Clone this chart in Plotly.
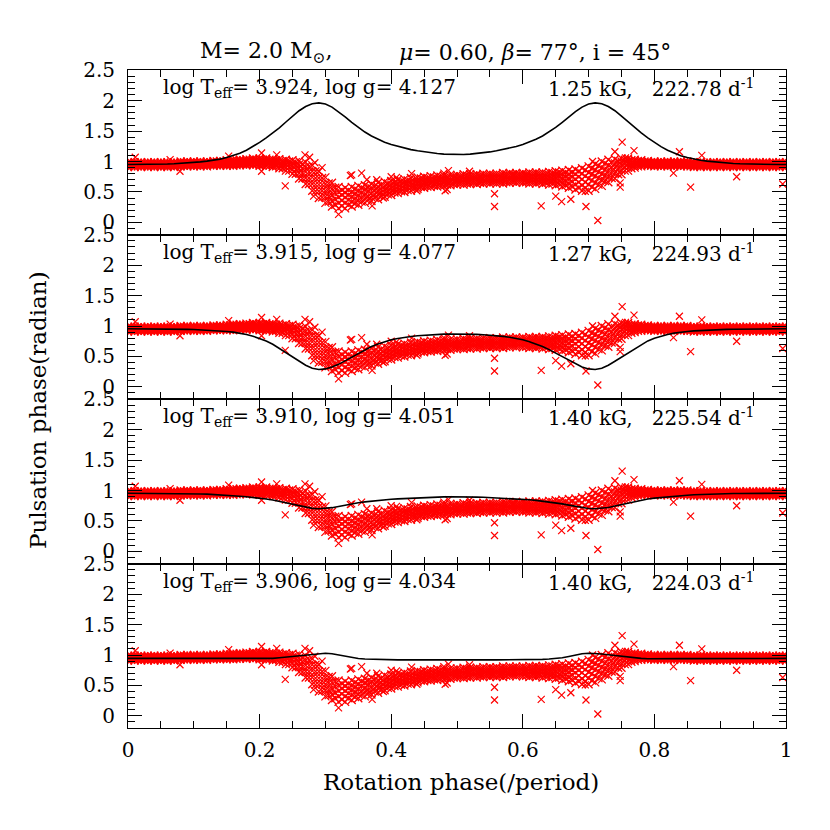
import plotly.graph_objects as go
from plotly.subplots import make_subplots

# rotation phase grid (model curves and data band)
phase = [0.00, 0.01, 0.02, 0.03, 0.04, 0.05, 0.06, 0.07, 0.08, 0.09,
         0.10, 0.11, 0.12, 0.13, 0.14, 0.15, 0.16, 0.17, 0.18, 0.19,
         0.20, 0.21, 0.22, 0.23, 0.24, 0.25, 0.26, 0.27, 0.28, 0.29,
         0.30, 0.31, 0.32, 0.33, 0.34, 0.35, 0.36, 0.37, 0.38, 0.39,
         0.40, 0.41, 0.42, 0.43, 0.44, 0.45, 0.46, 0.47, 0.48, 0.49,
         0.50, 0.51, 0.52, 0.53, 0.54, 0.55, 0.56, 0.57, 0.58, 0.59,
         0.60, 0.61, 0.62, 0.63, 0.64, 0.65, 0.66, 0.67, 0.68, 0.69,
         0.70, 0.71, 0.72, 0.73, 0.74, 0.75, 0.76, 0.77, 0.78, 0.79,
         0.80, 0.81, 0.82, 0.83, 0.84, 0.85, 0.86, 0.87, 0.88, 0.89,
         0.90, 0.91, 0.92, 0.93, 0.94, 0.95, 0.96, 0.97, 0.98, 0.99, 1.00]

# observed pulsation phase, read as strands across the dense band
band_hi = [0.99, 0.99, 0.99, 0.99, 0.99, 0.99, 0.99, 0.99, 1.00, 1.00,
           1.00, 1.00, 1.00, 1.01, 1.01, 1.02, 1.03, 1.03, 1.04, 1.05,
           1.05, 1.05, 1.04, 1.04, 1.03, 1.02, 1.01, 0.99, 0.94, 0.84,
           0.74, 0.65, 0.58, 0.57, 0.58, 0.60, 0.61, 0.63, 0.65, 0.67,
           0.68, 0.70, 0.71, 0.73, 0.74, 0.75, 0.76, 0.77, 0.77, 0.78,
           0.78, 0.79, 0.79, 0.79, 0.80, 0.80, 0.80, 0.81, 0.81, 0.81,
           0.81, 0.82, 0.82, 0.82, 0.83, 0.84, 0.85, 0.86, 0.87, 0.89,
           0.92, 0.96, 1.00, 1.03, 1.04, 1.05, 1.05, 1.03, 1.02, 1.01,
           1.00, 1.00, 1.00, 1.00, 1.00, 1.00, 0.99, 0.99, 0.99, 0.99,
           0.99, 0.99, 0.99, 0.99, 0.99, 0.99, 0.99, 0.99, 0.99, 0.99, 0.99]
band_mh = [0.97, 0.97, 0.97, 0.97, 0.97, 0.97, 0.97, 0.97, 0.98, 0.98,
           0.98, 0.98, 0.98, 0.99, 0.99, 0.99, 1.00, 1.01, 1.01, 1.02,
           1.02, 1.02, 1.01, 1.00, 0.99, 0.97, 0.95, 0.91, 0.84, 0.73,
           0.63, 0.55, 0.50, 0.49, 0.50, 0.52, 0.54, 0.56, 0.58, 0.60,
           0.62, 0.64, 0.66, 0.67, 0.69, 0.70, 0.71, 0.72, 0.73, 0.74,
           0.74, 0.75, 0.75, 0.75, 0.76, 0.76, 0.76, 0.77, 0.77, 0.77,
           0.77, 0.78, 0.78, 0.78, 0.78, 0.79, 0.79, 0.79, 0.79, 0.80,
           0.82, 0.86, 0.90, 0.94, 0.97, 1.00, 1.01, 1.00, 0.99, 0.99,
           0.98, 0.98, 0.98, 0.98, 0.98, 0.98, 0.97, 0.97, 0.97, 0.97,
           0.97, 0.97, 0.97, 0.97, 0.97, 0.97, 0.97, 0.97, 0.97, 0.97, 0.97]
band_mid = [0.95, 0.95, 0.95, 0.95, 0.95, 0.95, 0.95, 0.95, 0.96, 0.96,
            0.96, 0.96, 0.96, 0.97, 0.97, 0.97, 0.98, 0.98, 0.99, 0.99,
            0.99, 0.99, 0.98, 0.97, 0.95, 0.93, 0.89, 0.83, 0.74, 0.62,
            0.52, 0.45, 0.41, 0.41, 0.42, 0.44, 0.46, 0.48, 0.51, 0.54,
            0.56, 0.58, 0.60, 0.62, 0.64, 0.65, 0.66, 0.67, 0.68, 0.69,
            0.70, 0.70, 0.71, 0.71, 0.72, 0.72, 0.72, 0.72, 0.73, 0.73,
            0.73, 0.73, 0.73, 0.73, 0.73, 0.73, 0.72, 0.72, 0.71, 0.71,
            0.72, 0.76, 0.80, 0.85, 0.90, 0.94, 0.96, 0.97, 0.97, 0.97,
            0.96, 0.96, 0.96, 0.96, 0.96, 0.96, 0.95, 0.95, 0.95, 0.95,
            0.95, 0.95, 0.95, 0.95, 0.95, 0.95, 0.95, 0.95, 0.95, 0.95, 0.95]
band_ml = [0.93, 0.93, 0.93, 0.93, 0.93, 0.93, 0.93, 0.93, 0.94, 0.94,
           0.94, 0.94, 0.94, 0.95, 0.95, 0.95, 0.95, 0.96, 0.96, 0.96,
           0.96, 0.96, 0.94, 0.93, 0.90, 0.87, 0.81, 0.73, 0.63, 0.51,
           0.42, 0.35, 0.32, 0.32, 0.34, 0.36, 0.39, 0.41, 0.45, 0.48,
           0.50, 0.53, 0.55, 0.57, 0.59, 0.61, 0.62, 0.63, 0.64, 0.65,
           0.66, 0.66, 0.67, 0.67, 0.68, 0.68, 0.68, 0.68, 0.69, 0.69,
           0.69, 0.68, 0.68, 0.68, 0.67, 0.67, 0.65, 0.64, 0.62, 0.61,
           0.62, 0.65, 0.70, 0.75, 0.81, 0.86, 0.90, 0.93, 0.95, 0.95,
           0.94, 0.94, 0.94, 0.94, 0.94, 0.94, 0.93, 0.93, 0.93, 0.93,
           0.93, 0.93, 0.93, 0.93, 0.93, 0.93, 0.93, 0.93, 0.93, 0.93, 0.93]
band_lo = [0.91, 0.91, 0.91, 0.91, 0.91, 0.91, 0.91, 0.91, 0.92, 0.92,
           0.92, 0.92, 0.92, 0.93, 0.93, 0.93, 0.93, 0.94, 0.94, 0.94,
           0.93, 0.93, 0.91, 0.89, 0.85, 0.80, 0.72, 0.63, 0.52, 0.40,
           0.32, 0.26, 0.23, 0.23, 0.26, 0.29, 0.32, 0.35, 0.38, 0.42,
           0.45, 0.48, 0.50, 0.52, 0.55, 0.57, 0.58, 0.59, 0.60, 0.61,
           0.62, 0.62, 0.63, 0.63, 0.64, 0.64, 0.64, 0.64, 0.65, 0.65,
           0.65, 0.64, 0.64, 0.63, 0.62, 0.61, 0.59, 0.57, 0.54, 0.52,
           0.52, 0.55, 0.60, 0.66, 0.72, 0.79, 0.85, 0.90, 0.92, 0.93,
           0.92, 0.92, 0.92, 0.92, 0.92, 0.92, 0.91, 0.91, 0.91, 0.91,
           0.91, 0.91, 0.91, 0.91, 0.91, 0.91, 0.91, 0.91, 0.91, 0.91, 0.91]

# second set of band points, read at the half-step phases
phase_off = [0.005, 0.015, 0.025, 0.035, 0.045, 0.055, 0.065, 0.075, 0.085, 0.095,
             0.105, 0.115, 0.125, 0.135, 0.145, 0.155, 0.165, 0.175, 0.185, 0.195,
             0.205, 0.215, 0.225, 0.235, 0.245, 0.255, 0.265, 0.275, 0.285, 0.295,
             0.305, 0.315, 0.325, 0.335, 0.345, 0.355, 0.365, 0.375, 0.385, 0.395,
             0.405, 0.415, 0.425, 0.435, 0.445, 0.455, 0.465, 0.475, 0.485, 0.495,
             0.505, 0.515, 0.525, 0.535, 0.545, 0.555, 0.565, 0.575, 0.585, 0.595,
             0.605, 0.615, 0.625, 0.635, 0.645, 0.655, 0.665, 0.675, 0.685, 0.695,
             0.705, 0.715, 0.725, 0.735, 0.745, 0.755, 0.765, 0.775, 0.785, 0.795,
             0.805, 0.815, 0.825, 0.835, 0.845, 0.855, 0.865, 0.875, 0.885, 0.895,
             0.905, 0.915, 0.925, 0.935, 0.945, 0.955, 0.965, 0.975, 0.985, 0.995]
off_a = [0.98, 0.98, 0.98, 0.98, 0.98, 0.98, 0.98, 0.98, 0.99, 0.99,
         0.99, 0.99, 0.99, 1.00, 1.00, 1.01, 1.02, 1.02, 1.03, 1.03,
         1.03, 1.03, 1.02, 1.01, 1.00, 0.99, 0.96, 0.92, 0.84, 0.73,
         0.64, 0.57, 0.53, 0.53, 0.55, 0.57, 0.58, 0.60, 0.62, 0.64,
         0.66, 0.68, 0.69, 0.71, 0.72, 0.73, 0.74, 0.75, 0.75, 0.76,
         0.76, 0.77, 0.77, 0.77, 0.78, 0.78, 0.78, 0.79, 0.79, 0.79,
         0.79, 0.80, 0.80, 0.80, 0.81, 0.82, 0.82, 0.83, 0.84, 0.86,
         0.89, 0.93, 0.97, 0.99, 1.01, 1.03, 1.02, 1.01, 1.00, 0.99,
         0.99, 0.99, 0.99, 0.99, 0.99, 0.98, 0.98, 0.98, 0.98, 0.98,
         0.98, 0.98, 0.98, 0.98, 0.98, 0.98, 0.98, 0.98, 0.98, 0.98]
off_b = [0.96, 0.96, 0.96, 0.96, 0.96, 0.96, 0.96, 0.97, 0.97, 0.97,
         0.97, 0.97, 0.98, 0.98, 0.98, 0.98, 0.99, 1.00, 1.00, 1.00,
         1.00, 1.00, 0.99, 0.98, 0.96, 0.93, 0.89, 0.83, 0.73, 0.62,
         0.54, 0.48, 0.45, 0.45, 0.47, 0.49, 0.51, 0.53, 0.55, 0.58,
         0.60, 0.62, 0.64, 0.65, 0.67, 0.68, 0.69, 0.70, 0.71, 0.72,
         0.72, 0.73, 0.73, 0.73, 0.74, 0.74, 0.74, 0.75, 0.75, 0.75,
         0.75, 0.75, 0.75, 0.75, 0.76, 0.76, 0.75, 0.75, 0.75, 0.76,
         0.79, 0.83, 0.87, 0.91, 0.95, 0.98, 0.98, 0.98, 0.98, 0.97,
         0.97, 0.97, 0.97, 0.97, 0.97, 0.96, 0.96, 0.96, 0.96, 0.96,
         0.96, 0.96, 0.96, 0.96, 0.96, 0.96, 0.96, 0.96, 0.96, 0.96]
off_c = [0.94, 0.94, 0.94, 0.94, 0.94, 0.94, 0.94, 0.94, 0.95, 0.95,
         0.95, 0.95, 0.96, 0.96, 0.96, 0.96, 0.97, 0.97, 0.97, 0.97,
         0.97, 0.97, 0.95, 0.94, 0.91, 0.87, 0.81, 0.73, 0.62, 0.52,
         0.43, 0.38, 0.36, 0.37, 0.39, 0.41, 0.43, 0.46, 0.49, 0.52,
         0.54, 0.56, 0.58, 0.60, 0.62, 0.63, 0.64, 0.65, 0.66, 0.67,
         0.68, 0.68, 0.69, 0.69, 0.70, 0.70, 0.70, 0.70, 0.71, 0.71,
         0.71, 0.70, 0.70, 0.70, 0.70, 0.69, 0.68, 0.67, 0.66, 0.66,
         0.69, 0.73, 0.77, 0.83, 0.88, 0.91, 0.94, 0.95, 0.96, 0.95,
         0.95, 0.95, 0.95, 0.95, 0.95, 0.94, 0.94, 0.94, 0.94, 0.94,
         0.94, 0.94, 0.94, 0.94, 0.94, 0.94, 0.94, 0.94, 0.94, 0.94]
off_d = [0.92, 0.92, 0.92, 0.92, 0.92, 0.92, 0.92, 0.93, 0.93, 0.93,
         0.93, 0.93, 0.94, 0.94, 0.94, 0.94, 0.94, 0.95, 0.95, 0.95,
         0.94, 0.93, 0.92, 0.89, 0.85, 0.80, 0.72, 0.63, 0.51, 0.41,
         0.34, 0.29, 0.27, 0.29, 0.31, 0.34, 0.37, 0.40, 0.43, 0.46,
         0.49, 0.51, 0.53, 0.56, 0.58, 0.59, 0.60, 0.61, 0.62, 0.63,
         0.64, 0.64, 0.65, 0.65, 0.66, 0.66, 0.66, 0.66, 0.67, 0.67,
         0.66, 0.66, 0.66, 0.65, 0.64, 0.63, 0.61, 0.59, 0.57, 0.57,
         0.58, 0.62, 0.68, 0.73, 0.79, 0.85, 0.89, 0.92, 0.94, 0.93,
         0.93, 0.93, 0.93, 0.93, 0.93, 0.92, 0.92, 0.92, 0.92, 0.92,
         0.92, 0.92, 0.92, 0.92, 0.92, 0.92, 0.92, 0.92, 0.92, 0.92]

# scattered points outside the band
out_x = [0.011, 0.064, 0.079, 0.153, 0.203, 0.226, 0.203, 0.239, 0.269, 0.276,
         0.284, 0.290, 0.295, 0.340, 0.320, 0.282, 0.338, 0.355, 0.363, 0.378,
         0.400, 0.408, 0.431, 0.371, 0.388, 0.439, 0.480, 0.487, 0.485, 0.519,
         0.557, 0.557, 0.628, 0.650, 0.659, 0.673, 0.696, 0.714, 0.706, 0.695,
         0.740, 0.751, 0.769, 0.756, 0.748, 0.748, 0.838, 0.872, 0.829, 0.855,
         0.925, 0.995, 0.482]
out_y = [1.07, 1.03, 0.84, 1.09, 1.14, 1.11, 0.84, 0.60, 1.11, 1.07,
         0.98, 0.84, 0.90, 0.78, 0.13, 0.43, 0.77, 0.81, 0.70, 0.70,
         0.75, 0.74, 0.80, 0.27, 0.40, 0.52, 0.81, 0.85, 0.54, 0.84,
         0.47, 0.26, 0.27, 0.43, 0.34, 0.38, 0.26, 0.03, 1.00, 0.51,
         1.16, 1.32, 1.18, 1.06, 0.58, 0.65, 1.16, 1.10, 0.81, 0.58,
         0.75, 0.63, 0.52]

# model curves, one per panel
model_1 = [0.950, 0.950, 0.951, 0.952, 0.954, 0.956, 0.959, 0.963, 0.968, 0.975,
           0.984, 0.994, 1.006, 1.021, 1.040, 1.065, 1.096, 1.135, 1.185, 1.245,
           1.315, 1.390, 1.470, 1.555, 1.650, 1.745, 1.835, 1.905, 1.950, 1.965,
           1.945, 1.895, 1.820, 1.735, 1.645, 1.560, 1.485, 1.420, 1.365, 1.318,
           1.280, 1.248, 1.220, 1.196, 1.176, 1.158, 1.144, 1.132, 1.122, 1.116,
           1.112, 1.116, 1.122, 1.132, 1.144, 1.158, 1.176, 1.196, 1.220, 1.248,
           1.280, 1.318, 1.365, 1.420, 1.485, 1.560, 1.645, 1.735, 1.820, 1.895,
           1.945, 1.965, 1.950, 1.905, 1.835, 1.745, 1.650, 1.555, 1.470, 1.390,
           1.315, 1.245, 1.185, 1.135, 1.096, 1.065, 1.040, 1.021, 1.006, 0.994,
           0.984, 0.975, 0.968, 0.963, 0.959, 0.956, 0.954, 0.952, 0.951, 0.950, 0.950]
model_2 = [0.955, 0.955, 0.955, 0.954, 0.953, 0.952, 0.950, 0.949, 0.947, 0.945,
           0.942, 0.938, 0.933, 0.927, 0.920, 0.911, 0.900, 0.883, 0.860, 0.833,
           0.800, 0.755, 0.700, 0.632, 0.560, 0.488, 0.420, 0.355, 0.305, 0.285,
           0.295, 0.325, 0.370, 0.430, 0.495, 0.555, 0.612, 0.662, 0.705, 0.743,
           0.773, 0.796, 0.815, 0.829, 0.840, 0.849, 0.856, 0.862, 0.866, 0.869,
           0.870, 0.869, 0.866, 0.862, 0.856, 0.849, 0.840, 0.829, 0.815, 0.796,
           0.773, 0.743, 0.705, 0.662, 0.612, 0.555, 0.495, 0.430, 0.370, 0.325,
           0.295, 0.285, 0.305, 0.355, 0.420, 0.488, 0.560, 0.632, 0.700, 0.755,
           0.800, 0.833, 0.860, 0.883, 0.900, 0.911, 0.920, 0.927, 0.933, 0.938,
           0.942, 0.945, 0.947, 0.949, 0.950, 0.952, 0.953, 0.954, 0.955, 0.955, 0.955]
model_3 = [0.955, 0.955, 0.955, 0.955, 0.955, 0.954, 0.953, 0.952, 0.950, 0.948,
           0.946, 0.943, 0.940, 0.935, 0.930, 0.923, 0.915, 0.906, 0.897, 0.887,
           0.875, 0.860, 0.843, 0.820, 0.795, 0.770, 0.745, 0.722, 0.706, 0.700,
           0.705, 0.718, 0.738, 0.760, 0.780, 0.798, 0.813, 0.826, 0.838, 0.848,
           0.856, 0.863, 0.869, 0.875, 0.880, 0.885, 0.889, 0.892, 0.895, 0.897,
           0.898, 0.897, 0.895, 0.892, 0.889, 0.885, 0.880, 0.875, 0.869, 0.863,
           0.856, 0.848, 0.838, 0.826, 0.813, 0.798, 0.780, 0.760, 0.738, 0.718,
           0.705, 0.700, 0.706, 0.722, 0.745, 0.770, 0.795, 0.820, 0.843, 0.860,
           0.875, 0.887, 0.897, 0.906, 0.915, 0.923, 0.930, 0.935, 0.940, 0.943,
           0.946, 0.948, 0.950, 0.952, 0.953, 0.954, 0.955, 0.955, 0.955, 0.955, 0.955]
model_4 = [0.945, 0.945, 0.945, 0.945, 0.945, 0.945, 0.944, 0.944, 0.944, 0.943,
           0.943, 0.942, 0.942, 0.941, 0.941, 0.940, 0.940, 0.939, 0.938, 0.937,
           0.937, 0.939, 0.945, 0.954, 0.965, 0.977, 0.990, 1.004, 1.017, 1.025,
           1.028, 1.020, 1.000, 0.975, 0.955, 0.942, 0.934, 0.929, 0.926, 0.924,
           0.922, 0.921, 0.921, 0.920, 0.920, 0.920, 0.920, 0.920, 0.920, 0.920,
           0.920, 0.920, 0.920, 0.920, 0.920, 0.920, 0.920, 0.920, 0.921, 0.921,
           0.922, 0.924, 0.926, 0.929, 0.934, 0.942, 0.955, 0.975, 1.000, 1.020,
           1.028, 1.025, 1.017, 1.004, 0.990, 0.977, 0.965, 0.954, 0.945, 0.939,
           0.937, 0.937, 0.938, 0.939, 0.940, 0.940, 0.941, 0.941, 0.942, 0.942,
           0.943, 0.943, 0.944, 0.944, 0.944, 0.945, 0.945, 0.945, 0.945, 0.945, 0.945]
models = [model_1, model_2, model_3, model_4]

left_labels = ["log T<sub>eff</sub>= 3.924, log g= 4.127",
               "log T<sub>eff</sub>= 3.915, log g= 4.077",
               "log T<sub>eff</sub>= 3.910, log g= 4.051",
               "log T<sub>eff</sub>= 3.906, log g= 4.034"]
right_labels = ["1.25 kG,\u00a0\u00a0 222.78 d<sup>-1</sup>",
                "1.27 kG,\u00a0\u00a0 224.93 d<sup>-1</sup>",
                "1.40 kG,\u00a0\u00a0 225.54 d<sup>-1</sup>",
                "1.40 kG,\u00a0\u00a0 224.03 d<sup>-1</sup>"]

FONT = "DejaVu Serif"

band_x = phase * 5 + phase_off * 4
band_y = band_hi + band_mh + band_mid + band_ml + band_lo + off_a + off_b + off_c + off_d

fig = make_subplots(rows=4, cols=1, shared_xaxes=True, vertical_spacing=0)

for i in range(4):
    fig.add_trace(go.Scatter(x=band_x, y=band_y, mode="markers",
                             marker=dict(symbol="x-thin", size=8, color="red",
                                         line=dict(width=1.3, color="red")),
                             showlegend=False), row=i+1, col=1)
    fig.add_trace(go.Scatter(x=out_x, y=out_y, mode="markers",
                             marker=dict(symbol="x-thin", size=7, color="red",
                                         line=dict(width=1.2, color="red")),
                             showlegend=False), row=i+1, col=1)
    fig.add_trace(go.Scatter(x=phase, y=models[i], mode="lines",
                             line=dict(color="black", width=1.6),
                             showlegend=False), row=i+1, col=1)
    fig.update_yaxes(range=[-0.2, 2.505], dtick=0.5, tick0=0,
                     ticks="inside", ticklen=14, tickcolor="black",
                     minor=dict(dtick=0.1, ticklen=7, ticks="inside", tickcolor="black"),
                     showline=True, linecolor="black", linewidth=1, mirror="allticks",
                     showgrid=False, zeroline=False, ticklabelstandoff=8,
                     tickfont=dict(family=FONT, size=20, color="black"),
                     row=i+1, col=1)
    fig.update_xaxes(range=[0, 1], dtick=0.2, tick0=0,
                     ticks="inside", ticklen=14, tickcolor="black",
                     minor=dict(dtick=0.05, ticklen=7, ticks="inside", tickcolor="black"),
                     showline=True, linecolor="black", linewidth=1, mirror="allticks",
                     showgrid=False, zeroline=False, ticklabelstandoff=4,
                     showticklabels=(i == 3),
                     tickfont=dict(family=FONT, size=20, color="black"),
                     row=i+1, col=1)
    ytop = 0.9726 - 0.25 * i
    fig.add_annotation(text=left_labels[i], xref="paper", yref="paper",
                       x=0.05, y=ytop, xanchor="left", yanchor="middle",
                       showarrow=False, font=dict(family=FONT, size=20, color="black"))
    fig.add_annotation(text=right_labels[i], xref="paper", yref="paper",
                       x=0.955, y=ytop, xanchor="right", yanchor="middle",
                       showarrow=False, font=dict(family=FONT, size=20, color="black"))

# title in two pieces so the wide spacing of the original is kept
fig.add_annotation(text="M= 2.0 M<sub>⊙</sub>,",
                   xref="paper", yref="paper", x=0.21, y=1.027,
                   xanchor="center", yanchor="middle", showarrow=False,
                   font=dict(family=FONT, size=22, color="black"))
fig.add_annotation(text="<i>μ</i>= 0.60, <i>β</i>= 77°, i = 45°",
                   xref="paper", yref="paper", x=0.619, y=1.027,
                   xanchor="center", yanchor="middle", showarrow=False,
                   font=dict(family=FONT, size=22, color="black"))
fig.add_annotation(text="Pulsation phase(radian)", textangle=-90,
                   xref="paper", yref="paper", x=-0.137, y=0.483,
                   xanchor="center", yanchor="middle", showarrow=False,
                   font=dict(family=FONT, size=23, color="black"))
fig.add_annotation(text="Rotation phase(/period)",
                   xref="paper", yref="paper", x=0.506, y=-0.082,
                   xanchor="center", yanchor="middle", showarrow=False,
                   font=dict(family=FONT, size=23, color="black"))

# page body adds an 8 px offset, so margins are shifted to keep the plot box in place
fig.update_layout(width=830, height=830, plot_bgcolor="white", paper_bgcolor="white",
                  margin=dict(l=120, r=52, t=62, b=110))

fig.write_html("out.html")
